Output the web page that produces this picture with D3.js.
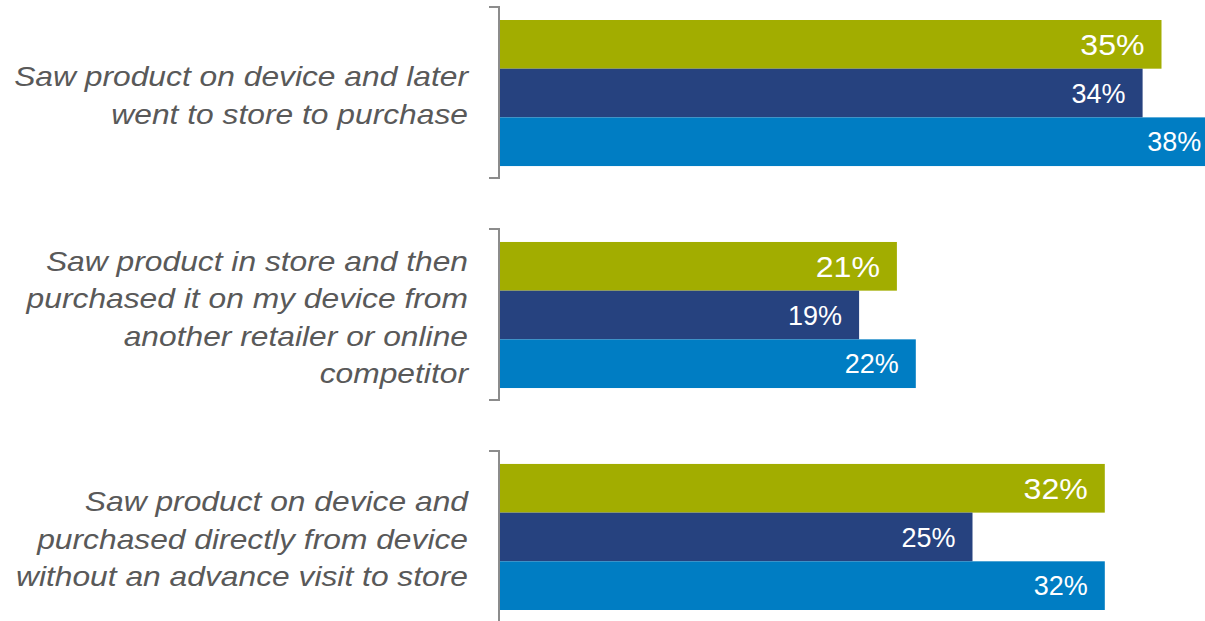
<!DOCTYPE html>
<html>
<head>
<meta charset="utf-8">
<script src="https://cdn.jsdelivr.net/npm/d3@7"></script>
<style>
  html, body { margin: 0; padding: 0; background: #fff; }
  svg { display: block; }
</style>
</head>
<body>
<svg id="chart" width="1205" height="621"></svg>
<script>
// Behaviours (each wrapped onto lines as shown)
const categories = [
  ["Saw product on device and later", "went to store to purchase"],
  ["Saw product in store and then", "purchased it on my device from", "another retailer or online", "competitor"],
  ["Saw product on device and", "purchased directly from device", "without an advance visit to store"]
];
const categoryKeys = ["onDeviceThenStore", "inStoreThenDevice", "onDeviceDirect"];

// Three series, in drawing order within each group
const seriesKeys = ["s1", "s2", "s3"];
const seriesColors = ["#a2ad00", "#26427f", "#007dc3"];
const seriesLabelSize = [30, 27, 27];
const seriesLabelStretch = [1.07, 1, 1];

// Percent values per series, aligned with categoryKeys
const values1 = [35, 21, 32];
const values2 = [34, 19, 25];
const values3 = [38, 22, 32];
const seriesValues = [values1, values2, values3];

const svg = d3.select("#chart");

const x = d3.scaleLinear().domain([0, 38]).range([500, 1218.2]);

const y0 = d3.scaleBand()
  .domain(categoryKeys)
  .range([20, 610])
  .paddingInner(0.342)
  .paddingOuter(0);

const y1 = d3.scaleBand()
  .domain(seriesKeys)
  .range([0, y0.bandwidth()])
  .padding(0);

const groups = svg.selectAll("g.group")
  .data(categoryKeys)
  .join("g")
  .attr("class", "group")
  .attr("transform", d => `translate(0,${y0(d)})`);

// Bracket to the left of each group
groups.append("path")
  .attr("d", () => {
    const top = -13, bot = y0.bandwidth() + 12, bx = 499;
    return `M${bx - 10},${top} H${bx} V${bot} H${bx - 10}`;
  })
  .attr("fill", "none")
  .attr("stroke", "#8c8c8c")
  .attr("stroke-width", 2);

// Bars with value labels inside their ends
groups.each(function (key, gi) {
  const g = d3.select(this);
  seriesKeys.forEach((s, si) => {
    const v = seriesValues[si][gi];
    g.append("rect")
      .attr("x", x(0))
      .attr("y", y1(s))
      .attr("width", x(v) - x(0))
      .attr("height", y1.bandwidth())
      .attr("fill", seriesColors[si]);
    g.append("text")
      .attr("transform", `translate(${x(v) - 17},${y1(s) + y1.bandwidth() / 2}) scale(${seriesLabelStretch[si]},1)`)
      .attr("dy", "0.36em")
      .attr("text-anchor", "end")
      .attr("fill", "#ffffff")
      .attr("font-family", "'Liberation Sans', Arial, sans-serif")
      .attr("font-size", seriesLabelSize[si])
      .text(v + "%");
  });
});

// Category labels, right aligned against the brackets
const lineHeight = 37.5;
groups.append("g")
  .attr("transform", "translate(468,0) scale(1.135,1)")
  .append("text")
  .attr("text-anchor", "end")
  .attr("fill", "#595959")
  .attr("font-family", "'Liberation Sans', Arial, sans-serif")
  .attr("font-style", "italic")
  .attr("font-size", 28)
  .each(function (key, gi) {
    const lines = categories[gi];
    const mid = y0.bandwidth() / 2 + 12;
    const first = mid - (lines.length - 1) * lineHeight / 2;
    d3.select(this).selectAll("tspan")
      .data(lines)
      .join("tspan")
      .attr("x", 0)
      .attr("y", (d, i) => first + i * lineHeight)
      .text(d => d);
  });
</script>
</body>
</html>
